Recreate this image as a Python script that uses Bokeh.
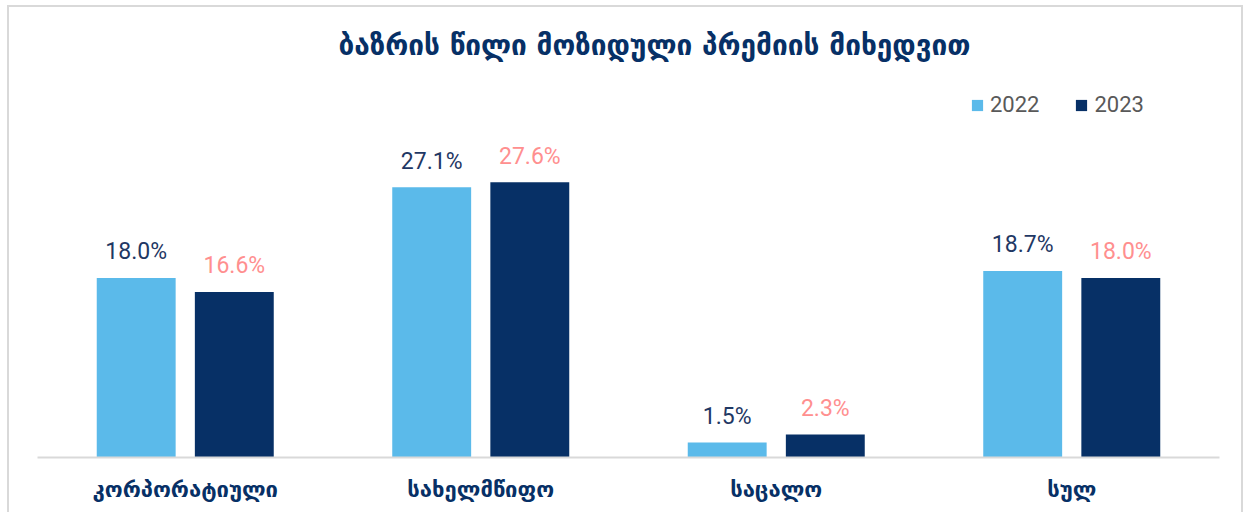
from bokeh.plotting import figure
from bokeh.models import ColumnDataSource, FactorRange, Range1d, Legend, LegendItem
from bokeh.transform import dodge
from bokeh.core.properties import value
from bokeh.embed import file_html
from bokeh.resources import INLINE

title_text = "ბაზრის წილი მოზიდული პრემიის მიხედვით"
categories = ["კორპორატიული", "სახელმწიფო", "საცალო", "სულ"]
series_names = ["2022", "2023"]
values_2022 = [18.0, 27.1, 1.5, 18.7]
values_2023 = [16.6, 27.6, 2.3, 18.0]

labels_2022 = [f"{v:.1f}%" for v in values_2022]
labels_2023 = [f"{v:.1f}%" for v in values_2023]

src = ColumnDataSource(dict(cat=categories, v22=values_2022, v23=values_2023,
                            l22=labels_2022, l23=labels_2023))

NAVY = "#073066"
LIGHT = "#5bbaea"

p = figure(x_range=FactorRange(*categories, range_padding=0),
           y_range=Range1d(0, 37.7),
           width=1236, height=507, output_backend="svg", toolbar_location=None,
           min_border_left=28, min_border_right=26, min_border_top=73,
           min_border_bottom=57)
p.styles = {"border-top": "2px solid #d9d9d9", "border-left": "2px solid #d9d9d9",
            "border-right": "2px solid #d9d9d9", "margin-left": "7px",
            "margin-top": "5px"}

p.title.text = title_text
p.title.align = "left"
p.title.offset = 301
p.title.text_font = "DejaVu Sans"
p.title.text_font_size = "28px"
p.title.text_font_style = "bold"
p.title.text_color = NAVY
p.title.standoff = 39

off = 0.166
w = 0.267
r1 = p.vbar(x=dodge("cat", -off, range=p.x_range), top="v22", width=w, bottom=0,
            source=src, fill_color=LIGHT, line_color=None)
r2 = p.vbar(x=dodge("cat", off, range=p.x_range), top="v23", width=w, bottom=0,
            source=src, fill_color=NAVY, line_color=None)

p.text(x=dodge("cat", -off, range=p.x_range), y="v22", text="l22", source=src,
       text_align="center", text_baseline="alphabetic", y_offset=-26,
       text_font=value("Roboto"), text_font_size="23px", text_color="#1f3864")
p.text(x=dodge("cat", off, range=p.x_range), y="v23", text="l23", source=src,
       text_align="center", text_baseline="alphabetic", y_offset=-26,
       text_font=value("Roboto"), text_font_size="23px", text_color="#ff8f8f")

legend = Legend(items=[LegendItem(label=series_names[0], renderers=[r1]),
                       LegendItem(label=series_names[1], renderers=[r2])],
                orientation="horizontal", location=(933, 340),
                border_line_color=None, background_fill_alpha=0,
                padding=0, margin=0, spacing=35,
                glyph_width=14, glyph_height=14, label_standoff=6,
                label_text_font="Roboto", label_text_font_size="22px",
                label_text_color="#595959")
p.add_layout(legend, "center")

p.xgrid.visible = False
p.ygrid.visible = False
p.yaxis.visible = False
p.outline_line_color = None
ax = p.xaxis[0]
ax.axis_line_color = "#d9d9d9"
ax.axis_line_width = 2
ax.major_tick_line_color = None
ax.minor_tick_line_color = None
ax.major_label_standoff = 13
ax.major_label_text_font = "DejaVu Sans"
ax.major_label_text_font_style = "bold"
ax.major_label_text_font_size = "22px"
ax.major_label_text_color = NAVY

open("out.html", "w").write(file_html(p, INLINE))
